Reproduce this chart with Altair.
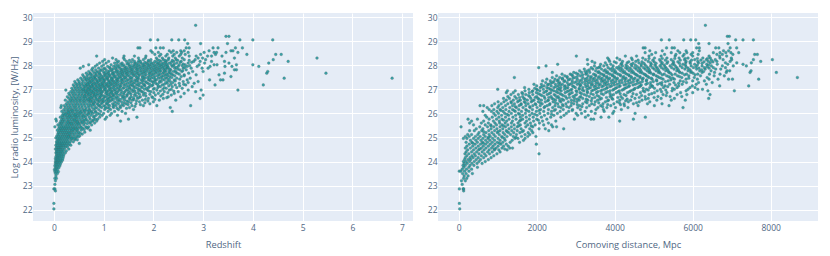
import altair as alt
import pandas as pd

# Estimated by eye: luminosity row -> redshift values
z_rows = {
 22.03:[0.00],22.26:[0.00],22.78:[0.03],22.86:[0.00,0.02],23.05:[0.02],23.2:[0.03],23.3:[0.02,0.05],23.4:[0.04],
 23.5:[0.03,0.07],23.58:[0.02,0.05,0.09],23.66:[0.01,0.04,0.07],23.74:[0.03,0.06,0.1],23.82:[0.02,0.05,0.08,0.12],
 23.9:[0.03,0.06,0.09,0.13],23.98:[0.03,0.05,0.08,0.11,0.15],24.05:[0.04,0.07,0.1,0.13,0.17],24.12:[0.03,0.06,0.08,0.11,0.14,0.18],
 24.2:[0.04,0.07,0.09,0.12,0.15,0.19],24.28:[0.05,0.08,0.1,0.13,0.16,0.2],24.36:[0.04,0.06,0.09,0.12,0.14,0.18,0.23],
 24.44:[0.05,0.07,0.1,0.13,0.16,0.19,0.25],24.52:[0.03,0.06,0.09,0.11,0.14,0.17,0.21,0.3],24.6:[0.05,0.08,0.1,0.13,0.15,0.19,0.23,0.27],
 24.68:[0.04,0.07,0.11,0.14,0.17,0.2,0.24,0.29,0.34],24.75:[0.06,0.09,0.12,0.15,0.18,0.22,0.26,0.31,0.51],24.82:[0.05,0.08,0.12,0.16,0.2,0.24,0.28,0.33,0.39],
 24.9:[0.07,0.1,0.13,0.17,0.21,0.25,0.29,0.35,0.42,0.47],24.98:[0.04,0.08,0.12,0.15,0.19,0.23,0.27,0.32,0.37,0.44],25.06:[0.06,0.1,0.14,0.18,0.22,0.26,0.3,0.34,0.4,0.46,0.52],
 25.14:[0.08,0.11,0.16,0.2,0.24,0.28,0.33,0.38,0.43,0.49,0.57],25.22:[0.09,0.13,0.17,0.21,0.25,0.29,0.34,0.39,0.45,0.5,0.62],25.3:[0.07,0.12,0.15,0.19,0.23,0.27,0.32,0.36,0.41,0.47,0.55,0.73],
 25.38:[0.1,0.14,0.18,0.22,0.26,0.3,0.35,0.4,0.44,0.5,0.58,0.68],25.44:[0.02,0.11,0.16,0.2,0.24,0.29,0.33,0.38,0.43,0.48,0.54,0.64,0.7],25.52:[0.08,0.13,0.17,0.23,0.27,0.31,0.36,0.41,0.46,0.52,0.6,0.76],
 25.6:[0.12,0.15,0.19,0.25,0.3,0.34,0.39,0.44,0.5,0.56,0.62,0.72,0.82],25.68:[0.05,0.14,0.18,0.22,0.28,0.33,0.38,0.43,0.48,0.54,0.6,0.68,0.78,0.86,1.34],25.76:[0.04,0.16,0.2,0.26,0.31,0.36,0.41,0.46,0.52,0.58,0.65,0.73,0.83,0.88,1.03,1.5],
 25.84:[0.13,0.18,0.24,0.29,0.34,0.39,0.45,0.5,0.56,0.63,0.71,0.8,0.92,1.06,1.67],25.92:[0.17,0.21,0.27,0.32,0.37,0.42,0.48,0.53,0.59,0.66,0.75,0.85,0.97,1.13,1.28],26.0:[0.19,0.25,0.3,0.35,0.4,0.46,0.51,0.57,0.63,0.7,0.78,0.88,1.0,1.16,1.44],
 26.08:[0.16,0.22,0.28,0.33,0.38,0.44,0.49,0.55,0.61,0.68,0.76,0.84,0.94,1.09,1.22,1.37,2.38],26.16:[0.2,0.26,0.31,0.36,0.42,0.47,0.53,0.59,0.65,0.72,0.8,0.9,1.02,1.14,1.3,1.6],26.24:[0.14,0.23,0.29,0.34,0.4,0.45,0.51,0.57,0.64,0.7,0.77,0.86,0.96,1.08,1.2,1.34,1.52,2.34],
 26.32:[0.15,0.21,0.27,0.33,0.39,0.44,0.5,0.56,0.62,0.69,0.74,0.82,0.91,1.0,1.12,1.25,1.4,1.57,1.8,2.07,2.75],26.4:[0.25,0.31,0.37,0.43,0.48,0.54,0.6,0.66,0.72,0.79,0.87,0.95,1.05,1.18,1.3,1.45,1.65,1.93],26.48:[0.28,0.34,0.4,0.46,0.52,0.58,0.63,0.7,0.76,0.83,0.9,0.99,1.1,1.22,1.36,1.5,1.72,2.0],
 26.55:[0.23,0.33,0.38,0.44,0.5,0.55,0.61,0.67,0.73,0.8,0.88,0.96,1.06,1.16,1.28,1.42,1.58,1.78,2.12,2.45],26.62:[0.3,0.36,0.42,0.47,0.53,0.59,0.64,0.71,0.77,0.84,0.92,1.0,1.11,1.24,1.38,1.52,1.68,1.9,2.2,2.94],26.69:[0.27,0.35,0.41,0.48,0.54,0.6,0.66,0.72,0.78,0.85,0.93,1.03,1.14,1.26,1.4,1.55,1.74,1.97,2.3,2.55],
 26.76:[0.32,0.39,0.45,0.51,0.57,0.63,0.69,0.75,0.81,0.88,0.97,1.07,1.19,1.32,1.47,1.62,1.8,2.04,2.36,3.0],26.83:[0.3,0.37,0.43,0.5,0.56,0.62,0.68,0.74,0.8,0.87,0.94,1.04,1.13,1.23,1.35,1.49,1.64,1.84,2.1,2.42,2.62],26.9:[0.34,0.4,0.47,0.53,0.59,0.65,0.71,0.77,0.83,0.9,0.98,1.08,1.17,1.29,1.43,1.59,1.77,1.95,2.22,2.5,2.85],
 26.97:[0.24,0.38,0.44,0.5,0.56,0.61,0.67,0.73,0.79,0.86,0.92,1.01,1.1,1.2,1.31,1.45,1.56,1.7,1.88,2.07,2.32,2.7,2.96,3.7],27.04:[0.36,0.43,0.49,0.55,0.62,0.68,0.74,0.81,0.88,0.95,1.04,1.15,1.27,1.39,1.53,1.68,1.86,2.02,2.26,2.58],27.11:[0.41,0.47,0.53,0.6,0.66,0.72,0.78,0.85,0.93,1.0,1.09,1.21,1.33,1.46,1.61,1.76,1.92,2.14,2.38,2.78],
 27.18:[0.39,0.46,0.52,0.58,0.65,0.7,0.77,0.84,0.91,0.98,1.07,1.17,1.28,1.41,1.54,1.66,1.82,1.99,2.18,2.44,2.65,3.24,4.21],27.25:[0.44,0.5,0.56,0.63,0.69,0.76,0.82,0.89,0.97,1.06,1.14,1.24,1.36,1.48,1.6,1.73,1.89,2.05,2.28,2.52,2.82],27.32:[0.42,0.51,0.59,0.67,0.73,0.8,0.87,0.94,1.02,1.11,1.2,1.3,1.42,1.55,1.69,1.84,1.98,2.16,2.34,2.6,2.9],
 27.39:[0.48,0.57,0.64,0.71,0.78,0.86,0.93,1.01,1.09,1.18,1.27,1.37,1.49,1.63,1.75,1.9,2.06,2.22,2.42,2.68,3.13,3.35,3.4],27.46:[0.54,0.62,0.7,0.75,0.83,0.91,0.99,1.08,1.16,1.25,1.35,1.45,1.57,1.7,1.83,1.96,2.1,2.27,2.47,2.74,4.63,6.8],27.53:[0.6,0.66,0.74,0.81,0.89,0.96,1.04,1.13,1.22,1.32,1.41,1.52,1.65,1.78,1.91,2.03,2.17,2.33,2.56,3.56],
 27.6:[0.58,0.68,0.77,0.85,0.94,1.03,1.12,1.2,1.29,1.39,1.5,1.61,1.72,1.85,1.98,2.11,2.24,2.39,2.62,2.86,3.32],27.67:[0.65,0.73,0.82,0.92,1.01,1.1,1.19,1.28,1.38,1.47,1.58,1.69,1.81,1.93,2.05,2.19,2.31,2.48,2.71,3.43,4.28,5.47],27.74:[0.7,0.79,0.88,0.99,1.09,1.17,1.26,1.36,1.46,1.56,1.67,1.79,1.9,2.02,2.13,2.25,2.4,2.57,2.79,3.0,4.3],
 27.81:[0.76,0.84,0.95,1.05,1.16,1.25,1.35,1.44,1.55,1.66,1.76,1.87,1.99,2.09,2.21,2.35,2.53,2.66,3.63,3.67],27.88:[0.53,0.78,0.9,1.02,1.13,1.24,1.33,1.43,1.53,1.64,1.74,1.86,1.96,2.07,2.18,2.28,2.43,2.6,2.76,2.98,3.1],27.95:[0.59,0.83,0.96,1.08,1.2,1.31,1.42,1.52,1.62,1.73,1.83,1.94,2.05,2.16,2.27,2.38,2.5,2.68,2.88,3.14,3.44,3.58,4.12],
 28.02:[0.7,0.87,1.0,1.15,1.28,1.4,1.51,1.61,1.71,1.82,1.92,2.03,2.14,2.24,2.36,2.52,2.64,2.92,3.22,3.28,3.67,4.0],28.09:[0.92,1.05,1.22,1.37,1.5,1.63,1.75,1.86,2.0,2.11,2.2,2.32,2.47,2.7,3.03,3.52,4.32],28.16:[0.98,1.1,1.3,1.46,1.62,1.74,1.9,2.03,2.15,2.26,2.41,2.56,2.81,2.94,3.17,3.43,4.71],
 28.23:[1.02,1.25,1.42,1.58,1.8,1.95,2.08,2.2,2.3,2.46,2.62,2.84,3.05,4.41],28.3:[1.18,1.4,1.7,1.84,2.06,2.18,2.31,2.44,2.58,2.9,2.99,3.63,5.29],28.38:[0.86,1.41,1.62,1.85,2.12,2.25,2.39,2.52,2.72,2.86,3.09,3.17,3.38],28.45:[2.03,2.15,2.28,2.42,2.55,2.64,2.95,3.25,3.88,4.46,4.57],
 28.53:[1.98,2.1,2.36,2.47,2.57,2.7,3.02,3.22,3.27,3.46,3.7],28.6:[1.95,2.32,2.4,2.55,2.62,3.12,3.56,3.6],28.72:[1.69,1.73,2.05,2.14,2.2,2.66,2.72,3.2,3.3,3.65,3.79],28.9:[2.69,2.95,3.49],29.05:[1.94,2.09,2.37,2.51,2.63,3.74,4.0,4.4],29.2:[3.46,3.52],29.66:[2.85],
}
z_extra = {
 24.96:[0.36,0.41],25.02:[0.29,0.49],25.17:[0.31,0.53],25.33:[0.38,0.46,0.61],25.41:[0.55,0.66],25.57:[0.35,0.49,0.67],25.64:[0.28,0.47,0.57,0.74],25.72:[0.42,0.63,0.79],25.88:[0.31,0.44,0.6,0.81],25.96:[0.23,0.43,0.69,0.92],26.04:[0.29,0.53,0.74,0.83],26.12:[0.37,0.62,0.71],
 26.21:[0.83,1.04,1.11,1.27,1.46],26.29:[0.93,1.03,1.19,1.33,1.63],26.36:[0.78,0.89,1.09,1.21,1.37,1.49,1.74],26.44:[0.81,0.97,1.07,1.26,1.41,1.55,1.83],26.51:[0.74,0.92,1.02,1.13,1.31,1.47,1.66,1.89],
 26.58:[0.69,0.86,0.98,1.09,1.19,1.33,1.53,1.61,1.84,2.03],26.65:[0.75,0.91,1.07,1.17,1.29,1.43,1.6,1.71,1.99,2.27],26.72:[0.62,0.82,0.95,1.01,1.12,1.21,1.37,1.47,1.66,1.85,2.15],26.79:[0.71,0.84,0.92,1.1,1.18,1.27,1.41,1.55,1.72,1.93,2.19],
 26.86:[0.67,0.79,0.96,1.06,1.16,1.26,1.4,1.53,1.69,1.8,2.01,2.29],26.93:[0.64,0.75,0.87,0.95,1.05,1.14,1.24,1.36,1.5,1.63,1.74,1.91,2.14,2.41],27.0:[0.59,0.69,0.83,0.94,1.03,1.13,1.23,1.34,1.48,1.6,1.73,1.82,2.0,2.19,2.36],27.07:[0.72,0.8,0.91,1.01,1.11,1.19,1.3,1.41,1.52,1.64,1.78,1.9,2.09,2.22,2.47],
 27.14:[0.63,0.75,0.87,0.97,1.05,1.13,1.25,1.35,1.5,1.58,1.71,1.83,1.97,2.1,2.31,2.53],27.21:[0.68,0.8,0.94,1.03,1.12,1.21,1.32,1.44,1.57,1.69,1.8,1.93,2.08,2.22,2.35,2.61],27.28:[0.72,0.86,0.99,1.1,1.18,1.27,1.38,1.52,1.63,1.77,1.86,2.0,2.12,2.25,2.39,2.7],
 27.35:[0.76,0.9,1.0,1.14,1.24,1.35,1.46,1.58,1.66,1.79,1.94,2.03,2.13,2.29,2.44],27.42:[0.66,0.83,0.97,1.05,1.16,1.29,1.4,1.53,1.68,1.8,1.92,2.03,2.18,2.32,2.53],27.49:[0.79,0.93,1.07,1.19,1.3,1.43,1.55,1.67,1.78,1.88,2.0,2.14,2.24,2.37],
 27.56:[0.84,1.0,1.1,1.24,1.36,1.47,1.6,1.71,1.82,1.95,2.08,2.2,2.29,2.43,2.62],27.63:[0.73,0.91,1.07,1.17,1.34,1.45,1.56,1.66,1.77,1.91,2.01,2.14,2.27,2.36,2.52],27.7:[0.86,1.04,1.22,1.33,1.42,1.52,1.63,1.75,1.85,1.97,2.09,2.21,2.34,2.45],
 27.77:[0.93,1.12,1.29,1.4,1.5,1.6,1.72,1.83,1.95,2.05,2.15,2.23,2.31,2.44,2.59],27.84:[1.0,1.19,1.38,1.48,1.58,1.69,1.81,1.92,2.03,2.13,2.25,2.33,2.49],27.91:[1.12,1.28,1.46,1.58,1.68,1.79,1.9,2.01,2.12,2.22,2.3,2.46,2.63],
 27.98:[1.24,1.37,1.56,1.67,1.78,1.88,1.99,2.1,2.2,2.29,2.41,2.58,2.73],28.05:[1.34,1.47,1.66,1.79,1.89,1.96,2.08,2.17,2.27,2.42,2.6],28.12:[1.27,1.56,1.69,1.83,1.95,2.07,2.24,2.36,2.54,2.77],28.2:[1.52,1.71,1.9,2.12,2.24,2.38,2.49,2.72],
}
# Estimated by eye: luminosity row -> comoving distance values
d_rows = {
 22.03:[26],22.26:[17],22.78:[127],22.86:[17,115,127],23.05:[90],23.2:[70,170],23.3:[125,205],23.4:[140,240],
 23.5:[100,190,350],23.6:[15,55,150,265],23.68:[90,200,330],23.76:[130,260,480],23.84:[110,170,290,390],23.92:[140,220,340,470,600],24.0:[120,190,280,400,520,680],
 24.08:[150,240,310,450,560,760],24.16:[170,290,370,500,640,830],24.24:[210,340,430,580,700,900],24.32:[160,260,400,520,660,790,980,2060],24.4:[190,330,460,600,740,860,1060],
 24.48:[230,380,510,650,780,920,1030,1240],24.56:[170,300,440,580,700,840,960,1110,1310,1380],24.64:[210,360,500,630,760,880,1010,1150,1270],24.72:[270,420,560,690,810,930,1080,1220,1990],24.8:[190,340,480,610,740,860,990,1130,1320,1560],
 24.88:[300,440,570,690,800,920,1060,1190,1370,1660],24.96:[120,210,380,500,620,750,870,1010,1170,1440,1520,1700],25.04:[170,270,430,550,680,810,940,1100,1240,1400,1610,1770,1980],25.12:[230,330,490,640,780,900,1040,1180,1330,1480,1700,1820],
 25.2:[520,700,850,990,1140,1280,1410,1570,1780,1900],25.28:[280,400,590,770,920,1060,1220,1360,1500,1660,1870,2310],25.36:[450,620,830,980,1130,1290,1430,1600,1820,2060,2220,2692],25.44:[60,540,740,900,1060,1200,1350,1500,1720,1900,2410,2510],
 25.52:[380,680,820,970,1110,1260,1420,1580,1770,1960,2180,2380],25.6:[280,580,760,930,1050,1190,1350,1520,1700,1840,2070,2300],25.68:[330,640,890,1040,1230,1380,1560,1740,1920,2150,2490,4128],25.76:[239,480,780,970,1110,1290,1470,1640,1810,2000,2260,2966,3393,3460,4479],
 25.84:[720,860,1030,1200,1390,1580,1730,1910,2120,2360,2620,3248,3650,3850,4786],25.92:[680,940,1100,1280,1460,1640,1820,2010,2200,2440,2700,3050,3320],26.0:[900,1020,1180,1350,1530,1710,1880,2080,2290,2530,2760,3010,3150,3500,3950,4523],
 26.08:[620,840,980,1140,1290,1450,1610,1800,1990,2180,2380,2600,2820,3240,3400,3730,3980],26.16:[780,900,1060,1210,1380,1540,1720,1890,2100,2300,2480,2680,2920,3120,3520,3710,4170],26.24:[730,1000,1130,1310,1480,1650,1830,2010,2190,2410,2620,2830,3050,3280,3570,3800,4020,4340,5752],
 26.32:[547,641,850,1030,1200,1380,1550,1720,1900,2090,2270,2470,2680,2880,3100,3350,3640,3900,4250,4600,5017,5393],26.4:[920,1090,1260,1430,1600,1780,1960,2140,2340,2540,2750,2950,3180,3410,3700,3980,4240,4480,4840,5213],26.48:[1010,1160,1340,1510,1680,1860,2040,2220,2420,2620,2810,3030,3250,3500,3760,4060,4350,4630,4900],
 26.55:[1220,1400,1580,1760,1930,2120,2300,2480,2690,2890,3090,3310,3560,3840,4130,4410,4700,5080,5450,5810],26.62:[1150,1300,1480,1670,1850,2030,2210,2390,2580,2770,2970,3180,3420,3660,3930,4200,4520,4860,5190,5530,6410],26.7:[1260,1440,1640,1820,2000,2190,2370,2550,2740,2930,3130,3350,3600,3880,4160,4440,4780,5110,5420,5720],
 26.78:[1340,1530,1720,1900,2090,2270,2450,2640,2830,3020,3220,3450,3710,3970,4240,4560,4880,5240,5600,5850,6444],26.86:[1220,1400,1620,1810,1990,2180,2360,2540,2730,2910,3110,3300,3530,3770,4040,4330,4660,5020,5340,5690,6000],26.94:[1250,1450,1700,1900,2080,2260,2440,2630,2820,3010,3210,3410,3640,3880,4120,4410,4730,5090,5470,5830,6390,7068],
 27.0:[1000,1800,2000,2170,2350,2530,2710,2900,3090,3290,3500,3740,3980,4230,4500,4810,5170,5530,5880,6130,6250],27.07:[1690,2090,2260,2440,2620,2800,2990,3180,3380,3590,3810,4050,4300,4590,4900,5250,5600,5930,6060],27.14:[2000,2190,2370,2550,2730,2920,3110,3310,3510,3710,3920,4140,4380,4660,4960,5290,5640,5990,6692,7436],
 27.21:[1930,2120,2300,2480,2660,2850,3040,3240,3430,3630,3840,4060,4290,4530,4800,5100,5410,5730,6090,6350],27.28:[2230,2410,2590,2780,2970,3170,3370,3570,3770,3980,4190,4420,4650,4920,5210,5520,5840,6150,6500],27.35:[2150,2350,2530,2720,2910,3100,3300,3500,3700,3910,4120,4340,4570,4810,5080,5370,5680,6000,6300],
 27.42:[2260,2470,2660,2850,3040,3240,3440,3640,3840,4050,4260,4480,4710,4960,5240,5530,5830,6120,6420,6650,6920,7020,7692],27.49:[1427,2400,2590,2780,2980,3180,3380,3580,3790,4000,4210,4430,4650,4880,5140,5420,5720,6040,6370,8684],27.56:[2510,2720,2920,3120,3320,3520,3730,3940,4150,4370,4590,4810,5060,5330,5610,5900,6200,6550,6810],
 27.63:[2650,2860,3060,3260,3460,3670,3880,4090,4310,4530,4760,5000,5270,5550,5840,6130,6430,6700],27.7:[2400,2950,3150,3360,3570,3780,3990,4210,4430,4650,4880,5120,5390,5670,5950,6240,6560,6860,7470,8145],27.77:[3100,3300,3510,3720,3930,4150,4370,4600,4830,5060,5310,5590,5880,6180,6470,6880,6950,7496],
 27.84:[3220,3440,3660,3880,4100,4320,4550,4780,5010,5250,5520,5800,6100,6320,6590,6720],27.9:[2051,3400,3590,3830,4050,4280,4510,4740,4970,5200,5460,5730,6020,6300,6530,6840],27.97:[2239,3480,3720,3960,4200,4440,4680,4920,5160,5420,5680,5960,6240,6480,6760,7040,7376],
 28.04:[2538,3310,3640,3900,4160,4420,4680,4940,5200,5480,5750,6050,6360,6630,6900,7290],28.1:[3490,3760,4040,4320,4620,4920,5220,5510,5820,6150,6450,6840,7130,7504],28.16:[3420,3870,4200,4540,4860,5180,5500,5830,6130,6400,6620,6960,7744],
 28.23:[3300,3850,4130,4450,4790,5150,5450,5790,6050,6350,6580,6780,7000,7556,8043],28.3:[3820,4060,4430,4720,5020,5340,5650,5880,6260,6450,6700,6990],28.38:[3017,4273,4560,4880,5190,5550,5750,6000,6420,6690,6870],28.45:[4950,5280,5570,5780,5960,6140,6620,6760,7030,7590,7658],
 28.52:[4780,5050,5450,5670,5850,6000,6530,6700,6850,6980,7180],28.6:[4900,5220,5620,5830,6170,6790,6920],28.72:[4730,4780,5330,5470,5530,6100,6170,6590,6670,6960,7128],28.9:[6154,6419,6906],29.05:[5197,5400,5770,5950,6077,7102,7290,7556],29.2:[6889,6940],29.66:[6325],
}
d_extra = {
 24.52:[540,910,1180],24.76:[360,630,1040],25.0:[760,1120,1470],25.24:[640,1010,1240,1630],25.48:[830,1150,1540,1860],25.72:[1150,1590,2040],25.96:[1240,1560,1950,2380],
 26.12:[1080,1420,1740,2060,2450,2910],26.28:[1450,1820,2210,2560,2770,3160,3690],26.36:[1600,1980,2330,2660,3040,3480,3820,4150],26.44:[1350,1710,2090,2480,2890,3290,3590,4120,4560],26.52:[1540,1890,2280,2590,2960,3400,3820,4280],
 26.59:[1700,2060,2430,2650,3040,3270,3620,3950,4320,4790],26.66:[1560,1960,2310,2520,2840,3100,3490,3790,4080,4630,5010],26.74:[1790,2130,2480,2680,2980,3280,3550,3920,4290,4690,5320],26.82:[1640,2040,2320,2600,2860,3150,3390,3660,3880,4140,4470,4950],
 26.9:[1880,2230,2500,2780,3030,3300,3570,3820,4090,4380,4770,5200],26.97:[2020,2390,2590,2870,3170,3450,3680,3950,4190,4460,4860,5310],27.04:[1950,2310,2570,2760,3090,3340,3540,3790,4020,4260,4520,4730,5020,5480],27.11:[2130,2490,2710,2950,3260,3470,3670,3880,4110,4350,4630,4970,5360],
 27.18:[2280,2610,2810,3130,3400,3590,3780,3990,4240,4470,4680,4920,5210,5560],27.25:[2360,2560,2900,3090,3310,3520,3730,3920,4120,4360,4590,4840,5160,5640],27.32:[2440,2700,3020,3240,3430,3660,3820,4030,4270,4480,4710,4990,5300,5760],27.39:[2550,2810,3150,3360,3550,3750,3960,4180,4390,4600,4820,5070,5440],
 27.46:[2660,2930,3290,3480,3680,3870,4070,4290,4520,4730,4940,5190,5490,5900],27.53:[2780,3040,3400,3610,3800,3990,4230,4420,4650,4850,5100,5380,5660],27.6:[2900,3180,3500,3720,3940,4140,4360,4560,4790,4990,5220,5470,5790,6060],27.67:[3010,3280,3620,3830,4040,4270,4490,4710,4930,5170,5430,5730,6010],
 27.74:[3240,3590,3810,4020,4250,4470,4680,4900,5140,5380,5650,5960,6280],27.81:[3350,3760,3990,4200,4430,4660,4890,5120,5360,5630,5930,6230],27.88:[3540,3940,4160,4390,4630,4860,5090,5320,5600,5880,6160,6420],27.94:[3620,4110,4330,4580,4820,5060,5290,5570,5830,6090,6370],
 28.01:[3800,4290,4530,4780,5030,5270,5530,5810,6120,6410],28.08:[4180,4470,4750,5060,5340,5660,5940,6240],28.14:[3990,4360,4700,5010,5360,5620,5930,6290,6520],28.21:[4600,4980,5300,5680,5970,6210,6480],28.28:[4880,5220,5540,5810,6120,6380],
}
lum_ticks = [22,23,24,25,26,27,28,29,30]
z_ticks = [0,1,2,3,4,5,6,7]
d_ticks = [0,2000,4000,6000,8000]

def table(*dicts):
    return pd.DataFrame([{"x":v,"lum":k} for d in dicts for k,vs in d.items() for v in vs])

z_df = table(z_rows, z_extra)
d_df = table(d_rows, d_extra)

def panel(df, title, dom, ticks, ytitle, w, h):
    yt = alt.Axis(values=lum_ticks, title=ytitle or None, labelFontSize=8.5, titleFontSize=9.3, titleFontWeight="normal",
                  titleColor="#506784", labelColor="#506784", grid=True, gridColor="#ffffff", gridWidth=1,
                  domain=False, ticks=False, labelPadding=1, titlePadding=3)
    xt = alt.Axis(values=ticks, title=title, format="d", labelFontSize=8.5, titleFontSize=9.3, titleFontWeight="normal",
                  titleColor="#506784", labelColor="#506784", grid=True, gridColor="#ffffff", gridWidth=1,
                  domain=False, ticks=False, labelPadding=2, titlePadding=9)
    return alt.Chart(df).mark_point(filled=True, size=7.5, opacity=0.85, color="#17989d",
                                    stroke="#4f6063", strokeWidth=0.35).encode(
        x=alt.X("x:Q", scale=alt.Scale(domain=dom, nice=False, zero=False), axis=xt),
        y=alt.Y("lum:Q", scale=alt.Scale(domain=[21.53,30.17], nice=False, zero=False), axis=yt),
    ).properties(width=w, height=h)

left = panel(z_df, "Redshift", [-0.42,7.22], z_ticks, "Log radio luminosity, [W/Hz]", 380, 208)
right = panel(d_df, "Comoving distance, Mpc", [-531,9213], d_ticks, None, 380, 208)

chart = alt.hconcat(left, right, spacing=14, padding={"left":2,"top":5,"right":0,"bottom":0}).configure(
    font="Open Sans", background="#ffffff"
).configure_view(fill="#E5ECF6", stroke=None).resolve_scale(x="independent", y="independent")

chart.save("out.html", embed_options={"renderer": "svg", "actions": False})
